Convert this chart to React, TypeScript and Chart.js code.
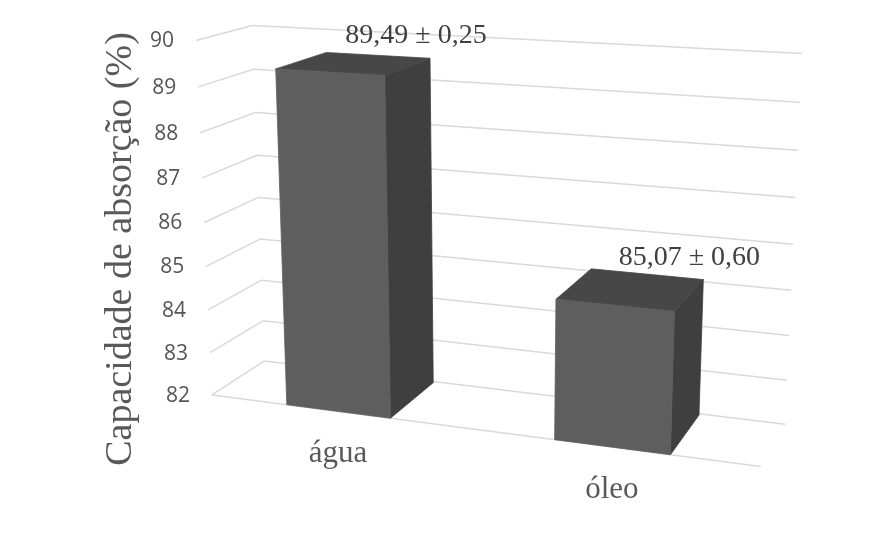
import { useEffect, useRef } from "react";
import { Chart, registerables } from "chart.js";

Chart.register(...registerables);

// Data
const categories = ["água", "óleo"];
const absorption = [89.49, 85.07];
const deviation = [0.25, 0.6];
const valueTicks = [82, 83, 84, 85, 86, 87, 88, 89, 90];
const axisTitle = "Capacidade de absorção (%)";

const fmt = (n: number) => n.toFixed(2).replace(".", ",");

// Perspective view of the plot box: 20° turn around the vertical axis,
// 15° downward tilt, pinhole projection.
const VIEW = {
  yaw: 20,
  pitch: 15,
  focal: 1745,
  cx: 496,
  cy: 252,
  origin: [-162.8, 81.9, 1000], // camera-space position of the front-left floor corner
  box: [317.8, 203.7, 65], // width, height, depth of the plot box
  barDepth: 0.97, // share of the box depth taken by a column
};

const STYLE = {
  grid: "#d9d9d9",
  front: "#5e5e5e",
  top: "#474747",
  side: "#3f3f3f",
  tickColor: "#555555",
  tickFont: '21px "Open Sans", sans-serif',
  catColor: "#595959",
  catFont: '31px "Liberation Serif", "Times New Roman", serif',
  valueColor: "#404040",
  valueFont: '28px "Liberation Serif", "Times New Roman", serif',
  titleColor: "#595959",
  titleFont: '38px "Liberation Serif", "Times New Roman", serif',
};

const rad = Math.PI / 180;
const cb = Math.cos(VIEW.yaw * rad);
const sb = Math.sin(VIEW.yaw * rad);
const ca = Math.cos(VIEW.pitch * rad);
const sa = Math.sin(VIEW.pitch * rad);
const ex = [cb, sb * sa, -sb * ca];
const ey = [0, -ca, -sa];
const ez = [sb, -cb * sa, cb * ca];

// u, v, w are fractions of the box width, height and depth (w = 0 at the front).
function project(u: number, v: number, w: number) {
  const X = u * VIEW.box[0];
  const Y = v * VIEW.box[1];
  const Z = w * VIEW.box[2];
  const o = VIEW.origin;
  const px = o[0] + X * ex[0] + Y * ey[0] + Z * ez[0];
  const py = o[1] + X * ex[1] + Y * ey[1] + Z * ez[1];
  const pz = o[2] + X * ex[2] + Y * ey[2] + Z * ez[2];
  return { x: VIEW.cx + (VIEW.focal * px) / pz, y: VIEW.cy + (VIEW.focal * py) / pz };
}

type P = { x: number; y: number };

function line(ctx: CanvasRenderingContext2D, a: P, b: P) {
  ctx.beginPath();
  ctx.moveTo(a.x, a.y);
  ctx.lineTo(b.x, b.y);
  ctx.stroke();
}

function face(ctx: CanvasRenderingContext2D, pts: P[], color: string) {
  ctx.beginPath();
  pts.forEach((p, i) => (i ? ctx.lineTo(p.x, p.y) : ctx.moveTo(p.x, p.y)));
  ctx.closePath();
  ctx.fillStyle = color;
  ctx.strokeStyle = color;
  ctx.lineWidth = 0.8;
  ctx.fill();
  ctx.stroke();
}

const perspectiveColumns = {
  id: "perspectiveColumns",
  beforeDatasetsDraw() {
    return false;
  },
  afterDraw(chart: any) {
    const { ctx, chartArea: a, scales } = chart;
    const xs = scales.x;
    const ys = scales.y;
    const vOf = (val: number) => (a.bottom - ys.getPixelForValue(val)) / a.height;
    const uOf = (px: number) => (px - a.left) / a.width;

    ctx.save();

    // walls: side-wall and back-wall gridlines
    ctx.strokeStyle = STYLE.grid;
    ctx.lineWidth = 1.5;
    valueTicks.forEach((t) => {
      const v = vOf(t);
      line(ctx, project(0, v, 0), project(0, v, 1));
      line(ctx, project(0, v, 1), project(1, v, 1));
    });
    // floor front edge
    line(ctx, project(0, 0, 0), project(1, 0, 0));

    // value axis tick labels
    ctx.fillStyle = STYLE.tickColor;
    ctx.font = STYLE.tickFont;
    ctx.textAlign = "right";
    ctx.textBaseline = "middle";
    valueTicks.forEach((t) => {
      const p = project(0, vOf(t), 0);
      ctx.fillText(String(t), p.x - 22, p.y + 1);
    });

    // columns
    const meta = chart.getDatasetMeta(0);
    const wd = VIEW.barDepth;
    meta.data.forEach((bar: any, i: number) => {
      const half = bar.width / 2;
      const u0 = uOf(bar.x - half);
      const u1 = uOf(bar.x + half);
      const v = vOf(absorption[i]);
      face(ctx, [project(u1, 0, 0), project(u1, 0, wd), project(u1, v, wd), project(u1, v, 0)], STYLE.side);
      face(ctx, [project(u0, v, 0), project(u1, v, 0), project(u1, v, wd), project(u0, v, wd)], STYLE.top);
      face(ctx, [project(u0, 0, 0), project(u1, 0, 0), project(u1, v, 0), project(u0, v, 0)], STYLE.front);

      // value label above the column
      const c = project(u1, v, wd);
      ctx.fillStyle = STYLE.valueColor;
      ctx.font = STYLE.valueFont;
      ctx.textAlign = "center";
      ctx.textBaseline = "alphabetic";
      ctx.fillText(`${fmt(absorption[i])} ± ${fmt(deviation[i])}`, c.x - 14, c.y - 15);
    });

    // category labels
    ctx.fillStyle = STYLE.catColor;
    ctx.font = STYLE.catFont;
    ctx.textAlign = "center";
    ctx.textBaseline = "alphabetic";
    categories.forEach((label, i) => {
      const p = project(uOf(xs.getPixelForValue(i)), 0, 0);
      ctx.fillText(label, p.x, p.y + 51);
    });

    // value axis title
    ctx.fillStyle = STYLE.titleColor;
    ctx.font = STYLE.titleFont;
    ctx.textAlign = "center";
    ctx.textBaseline = "middle";
    ctx.translate(121, 249);
    ctx.rotate(-Math.PI / 2);
    ctx.fillText(axisTitle, 0, 0);

    ctx.restore();
  },
};

export default function App() {
  const ref = useRef<HTMLCanvasElement>(null);

  useEffect(() => {
    if (!ref.current) return;
    const chart = new Chart(ref.current, {
      type: "bar",
      data: {
        labels: categories,
        datasets: [
          {
            data: absorption,
            barPercentage: 0.4,
            categoryPercentage: 1,
            backgroundColor: STYLE.front,
          },
        ],
      },
      options: {
        animation: false,
        responsive: false,
        maintainAspectRatio: false,
        devicePixelRatio: 1,
        layout: { padding: 0 },
        plugins: { legend: { display: false }, tooltip: { enabled: false } },
        scales: {
          x: { display: false },
          y: { display: false, min: valueTicks[0], max: valueTicks[valueTicks.length - 1] },
        },
      },
      plugins: [perspectiveColumns],
    });
    return () => chart.destroy();
  }, []);

  return (
    <div style={{ position: "fixed", left: 0, top: 0, width: 872, height: 547, background: "#fff" }}>
      <canvas ref={ref} width={872} height={547} style={{ width: 872, height: 547, display: "block" }} />
    </div>
  );
}
